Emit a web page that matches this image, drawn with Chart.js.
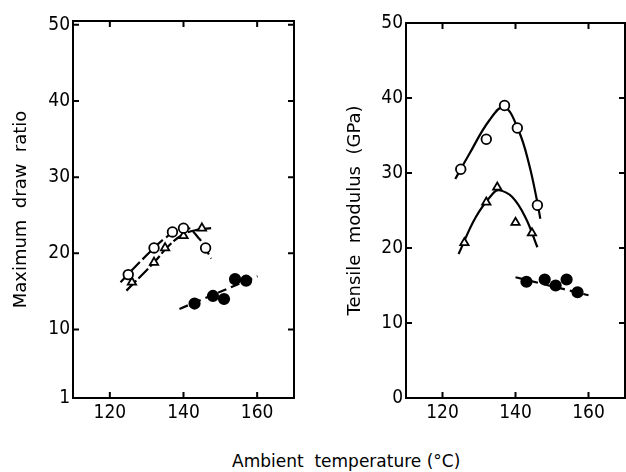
<!DOCTYPE html>
<html lang="en">
<head>
    <meta charset="UTF-8">
    <title>Draw ratio and modulus vs ambient temperature</title>
    <style>
        body { margin: 0; background: #fff; }
        #wrap { position: relative; width: 626px; height: 472px; overflow: hidden; }
        #leftBox { position: absolute; left: 0; top: 0; }
        #rightBox { position: absolute; left: 313px; top: 0; }
        #xTitle {
            position: absolute; left: 232px; top: 453px;
            font: 17px "DejaVu Sans", sans-serif; line-height: 17px;
            white-space: pre; color: #000;
        }
    </style>
</head>
<body>
<div id="wrap">
    <div id="leftBox"><canvas id="drawChart" width="313" height="430"></canvas></div>
    <div id="rightBox"><canvas id="modChart" width="313" height="430"></canvas></div>
    <div id="xTitle">Ambient  temperature (°C)</div>
</div>
<script src="https://cdn.jsdelivr.net/npm/chart.js"></script>
<script>
// ---- data ----
const xTicks = [120, 140, 160];
const drawTicks = [1, 10, 20, 30, 40, 50];
const modTicks = [0, 10, 20, 30, 40, 50];

// left panel: maximum draw ratio
const drawCircleT = [125, 132, 137, 140, 146];
const drawCircle = [17.2, 20.7, 22.8, 23.3, 20.7];
const drawTriT = [126, 132, 135, 140, 145];
const drawTri = [16.2, 18.8, 20.7, 22.3, 23.3];
const drawDotT = [143, 148, 151, 154, 157];
const drawDot = [13.4, 14.4, 14.0, 16.6, 16.4];

// hand-drawn curves through the left panel points
const drawCircleCurveT = [122.9, 129.9, 135.3, 140.1, 144.3, 147.5];
const drawCircleCurve = [16.2, 19.7, 22.1, 23.5, 21.9, 19.3];
const drawTriCurveT = [124.5, 132, 136, 140, 144, 147.5];
const drawTriCurve = [15.1, 18.8, 21.0, 22.5, 23.1, 23.3];
const drawDotLineT = [138.9, 160.1];
const drawDotLine = [12.7, 17.0];

// right panel: tensile modulus (GPa)
const modCircleT = [125, 132, 137, 140.5, 146];
const modCircle = [30.5, 34.5, 39.0, 36.0, 25.7];
const modTriT = [126, 132, 135, 140, 144.5];
const modTri = [20.7, 26.1, 28.1, 23.4, 22.0];
const modDotT = [143, 148, 151, 154, 157];
const modDot = [15.5, 15.8, 15.0, 15.8, 14.1];

const modCircleCurveT = [123.5, 127.3, 132.8, 136.9, 140.9, 143.7, 145.9, 146.8];
const modCircleCurve = [29.2, 32.5, 37.0, 38.8, 35.6, 31.2, 26.3, 23.9];
const modTriCurveT = [124.4, 129.1, 133.7, 135.5, 139.1, 142.7, 146.0];
const modTriCurve = [19.2, 24.1, 27.2, 27.7, 26.8, 24.1, 20.1];
const modDotLineT = [140, 160];
const modDotLine = [16.1, 13.7];

const FONT = '"DejaVu Sans Condensed", "DejaVu Sans", sans-serif';

function pts(xs, ys) {
    return xs.map((x, i) => ({ x: x, y: ys[i] }));
}

function curve(xs, ys, dash) {
    return {
        type: 'line',
        data: pts(xs, ys),
        borderColor: '#000',
        borderWidth: 2.2,
        borderDash: dash,
        tension: 0.4,
        pointRadius: 0,
        fill: false,
        order: 2
    };
}

function marks(xs, ys, style, filled) {
    return {
        type: 'scatter',
        data: pts(xs, ys),
        pointStyle: style,
        pointRadius: filled ? 5.2 : 4.8,
        pointBorderWidth: 1.8,
        pointBorderColor: '#000',
        pointBackgroundColor: filled ? '#000' : '#fff',
        order: 1
    };
}

// frame with inward tick marks on all four sides
const frameTicks = {
    id: 'frameTicks',
    afterDraw(chart) {
        const { ctx, chartArea: a, scales } = chart;
        const len = 6;
        ctx.save();
        ctx.strokeStyle = '#000';
        ctx.lineWidth = 2;
        ctx.strokeRect(a.left, a.top, a.right - a.left, a.bottom - a.top);
        ctx.beginPath();
        scales.x.ticks.forEach(t => {
            const px = scales.x.getPixelForValue(t.value);
            ctx.moveTo(px, a.bottom); ctx.lineTo(px, a.bottom - len);
            ctx.moveTo(px, a.top); ctx.lineTo(px, a.top + len);
        });
        scales.y.ticks.forEach(t => {
            const py = scales.y.getPixelForValue(t.value);
            ctx.moveTo(a.left, py); ctx.lineTo(a.left + len, py);
            ctx.moveTo(a.right, py); ctx.lineTo(a.right - len, py);
        });
        ctx.stroke();
        ctx.restore();
    }
};

function makeChart(id, datasets, yMin, yMax, yTicks, yTitle, opts) {
    return new Chart(document.getElementById(id), {
        data: { datasets: datasets },
        plugins: [frameTicks],
        options: {
            responsive: false,
            animation: false,
            layout: {
                autoPadding: false,
                padding: { top: opts.top, right: opts.right, left: 0, bottom: 0 }
            },
            plugins: { legend: { display: false }, tooltip: { enabled: false } },
            scales: {
                x: {
                    type: 'linear',
                    min: 110,
                    max: 170,
                    afterBuildTicks: s => { s.ticks = xTicks.map(v => ({ value: v })); },
                    afterFit: s => { s.height = 32; s.paddingLeft = 0; s.paddingRight = 0; },
                    grid: { display: false, drawTicks: false },
                    border: { display: false },
                    ticks: { color: '#000', padding: 4, font: { family: FONT, size: 19 } }
                },
                y: {
                    type: 'linear',
                    min: yMin,
                    max: yMax,
                    afterBuildTicks: s => { s.ticks = yTicks.map(v => ({ value: v })); },
                    afterFit: s => { s.width = opts.yWidth; s.paddingTop = 0; s.paddingBottom = 0; },
                    grid: { display: false, drawTicks: false },
                    border: { display: false },
                    ticks: { color: '#000', padding: 3, font: { family: FONT, size: 19 } },
                    title: {
                        display: true,
                        text: yTitle,
                        color: '#000',
                        font: { family: '"DejaVu Sans", sans-serif', size: 18 },
                        padding: { top: opts.titlePad, bottom: 0 }
                    }
                }
            }
        }
    });
}

makeChart('drawChart', [
    curve(drawCircleCurveT, drawCircleCurve, [12, 4]),
    curve(drawTriCurveT, drawTriCurve, [14, 3]),
    curve(drawDotLineT, drawDotLine, [9, 5]),
    marks(drawCircleT, drawCircle, 'circle', false),
    marks(drawTriT, drawTri, 'triangle', false),
    marks(drawDotT, drawDot, 'circle', true)
], 1, 50.5, drawTicks, 'Maximum  draw  ratio', { top: 21, right: 19, yWidth: 73, titlePad: 11 });

makeChart('modChart', [
    curve(modCircleCurveT, modCircleCurve, []),
    curve(modTriCurveT, modTriCurve, []),
    curve(modDotLineT, modDotLine, [9, 5]),
    marks(modCircleT, modCircle, 'circle', false),
    marks(modTriT, modTri, 'triangle', false),
    marks(modDotT, modDot, 'circle', true)
], 0, 50, modTicks, 'Tensile  modulus  (GPa)', { top: 23, right: 1, yWidth: 93, titlePad: 32 });
</script>
</body>
</html>
